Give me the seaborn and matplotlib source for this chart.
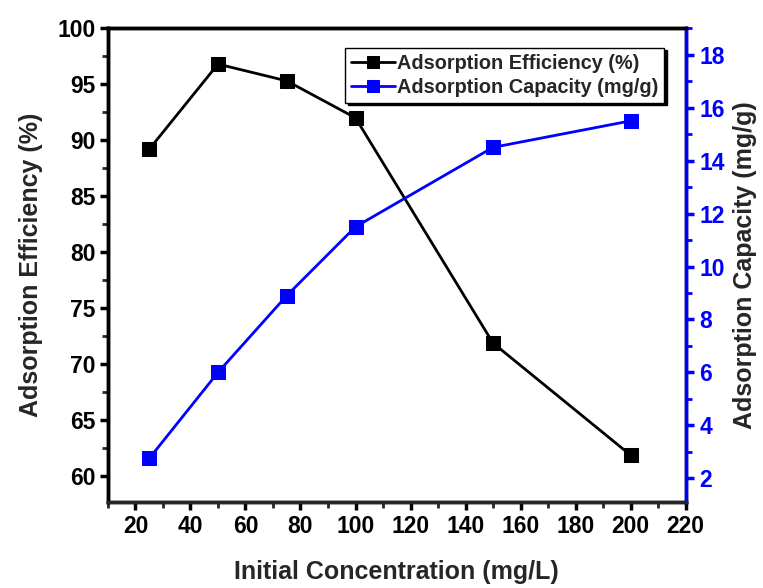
import pandas as pd
import matplotlib
matplotlib.use("Agg")
import matplotlib.pyplot as plt
from matplotlib.ticker import MultipleLocator
import seaborn as sns

# data
konsentrasi = [25, 50, 75, 100, 150, 200]
efisiensi = [89.2, 96.8, 95.3, 92.0, 71.9, 61.9]
kapasitas = [2.75, 6.0, 8.9, 11.5, 14.5, 15.5]

df = pd.DataFrame({"konsentrasi": konsentrasi, "efisiensi": efisiensi, "kapasitas": kapasitas})

sns.set_style("white")
plt.rcParams["font.family"] = ["Liberation Sans", "DejaVu Sans"]
plt.rcParams["font.weight"] = "bold"

fig = plt.figure(figsize=(7.63, 5.88), dpi=100)
ax = fig.add_axes([0.1415, 0.146, 0.757, 0.806])
ax2 = ax.twinx()

sns.lineplot(data=df, x="konsentrasi", y="efisiensi", ax=ax, color="black", marker="s",
             markersize=10, markeredgecolor="black", linewidth=2, label="Adsorption Efficiency (%)",
             legend=False)
sns.lineplot(data=df, x="konsentrasi", y="kapasitas", ax=ax2, color="#0000ff", marker="s",
             markersize=10, markeredgecolor="#0000ff", linewidth=2, label="Adsorption Capacity (mg/g)",
             legend=False)

ax.set_xlim(10, 220)
ax.set_ylim(57.7, 100)
ax2.set_ylim(1.1, 19.0)

ax.xaxis.set_major_locator(MultipleLocator(20))
ax.xaxis.set_minor_locator(MultipleLocator(10))
ax.yaxis.set_major_locator(MultipleLocator(5))
ax.yaxis.set_minor_locator(MultipleLocator(2.5))
ax2.yaxis.set_major_locator(MultipleLocator(2))
ax2.yaxis.set_minor_locator(MultipleLocator(1))

for s in ["left", "bottom", "top", "right"]:
    ax.spines[s].set_linewidth(2.5)
    ax.spines[s].set_color("black")
    ax2.spines[s].set_linewidth(2.5)
ax2.spines["right"].set_color("#0000ff")
ax2.spines["left"].set_color("black")
ax2.spines["top"].set_color("black")

ax.tick_params(axis="both", which="major", direction="out", length=6, width=2.5,
               labelsize=16.5, colors="black", left=True, bottom=True, pad=3)
ax.tick_params(axis="both", which="minor", direction="out", length=4, width=2,
               left=True, bottom=True)
ax2.tick_params(axis="y", which="major", direction="out", length=6, width=2.5,
                labelsize=16.5, colors="#0000ff", right=True, pad=4)
ax2.tick_params(axis="y", which="minor", direction="out", length=4, width=2,
                colors="#0000ff", right=True)

ax.set_xticks(range(20, 221, 20))
ax.set_xlabel("Initial Concentration (mg/L)", fontsize=18, fontweight="bold", labelpad=16)
ax.set_ylabel("Adsorption Efficiency (%)", fontsize=18, fontweight="bold", labelpad=10)
ax2.set_ylabel("Adsorption Capacity (mg/g)", fontsize=18, fontweight="bold", labelpad=6)

h1, l1 = ax.get_legend_handles_labels()
h2, l2 = ax2.get_legend_handles_labels()
leg = ax2.legend(h1 + h2, l1 + l2, loc="upper right", bbox_to_anchor=(0.98, 0.98),
                 fancybox=False, shadow={"color": "black", "alpha": 1}, framealpha=1,
                 edgecolor="black", fontsize=14.3, handlelength=2.2, handletextpad=0.1,
                 borderpad=0.3, labelspacing=0.25, markerscale=0.8)
leg.get_frame().set_linewidth(1)

fig.savefig("out.png", dpi=100)
